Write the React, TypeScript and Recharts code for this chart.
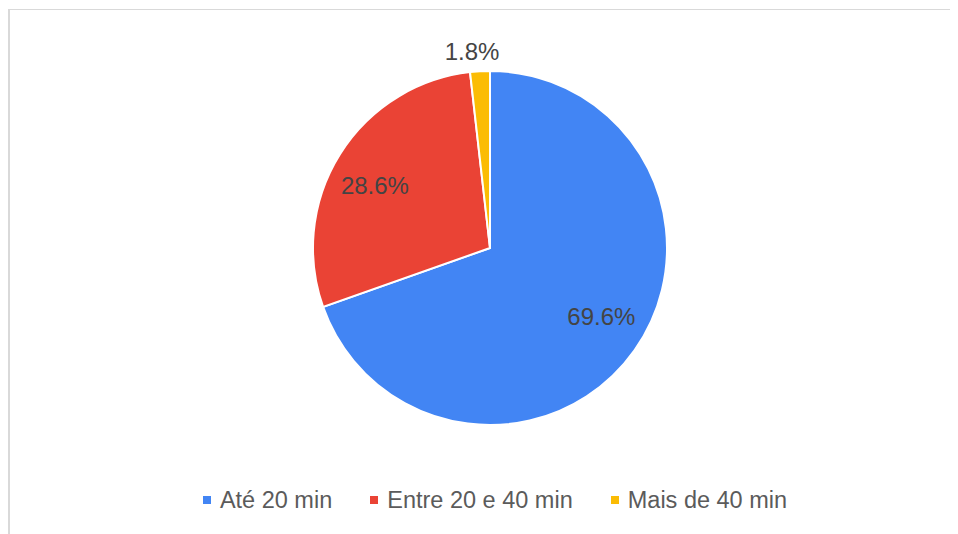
import { PieChart, Pie, Cell, Legend } from "recharts";

const categories = ["Até 20 min", "Entre 20 e 40 min", "Mais de 40 min"];
const values = [69.6, 28.6, 1.8];
const colors = ["#4285F4", "#EA4335", "#FBBC04"];

const data = categories.map((name, i) => ({ name, value: values[i] }));

const RAD = Math.PI / 180;
const FONT = "'Liberation Sans', Arial, sans-serif";

function renderLabel({ cx, cy, midAngle, outerRadius, percent }: any) {
  // small slices get their label outside the pie
  const outside = percent < 0.05;
  const r = outside ? outerRadius + 20 : outerRadius * 0.74;
  const a = midAngle + (outside ? 2 : 3.5);
  const x = cx + r * Math.cos(-a * RAD);
  const y = cy + r * Math.sin(-a * RAD);
  return (
    <text
      x={x}
      y={y}
      fill="#444444"
      fontSize={24}
      fontFamily={FONT}
      textAnchor="middle"
      dominantBaseline="central"
    >
      {(percent * 100).toFixed(1)}%
    </text>
  );
}

function LegendContent() {
  return (
    <div
      style={{
        display: "flex",
        justifyContent: "center",
        alignItems: "center",
        paddingLeft: 24,
        fontFamily: FONT,
        fontSize: 23.5,
        lineHeight: "28px",
        color: "#5b5b5b",
      }}
    >
      {categories.map((c, i) => (
        <div
          key={c}
          style={{
            display: "flex",
            alignItems: "center",
            marginRight: i < categories.length - 1 ? 38 : 0,
          }}
        >
          <span
            style={{
              width: 8,
              height: 8,
              background: colors[i],
              display: "inline-block",
              marginRight: 9,
            }}
          />
          <span>{c}</span>
        </div>
      ))}
    </div>
  );
}

export default function App() {
  return (
    <div style={{ position: "relative", width: 950, height: 526 }}>
      <div
        style={{
          position: "absolute",
          left: 0,
          top: 1,
          width: 948,
          height: 524,
          borderTop: "1px solid #d9d9d9",
          borderLeft: "2px solid #d9d9d9",
        }}
      />
      <PieChart width={950} height={526} style={{ position: "absolute", left: 0, top: 0 }}>
        <Pie
          data={data}
          dataKey="value"
          nameKey="name"
          cx={477}
          cy={235}
          outerRadius={177}
          startAngle={90}
          endAngle={-270}
          stroke="#ffffff"
          strokeWidth={2}
          label={renderLabel}
          labelLine={false}
          isAnimationActive={false}
        >
          {data.map((d, i) => (
            <Cell key={d.name} fill={colors[i]} />
          ))}
        </Pie>
        <Legend
          content={<LegendContent />}
          wrapperStyle={{ top: 478, left: 0, width: 950 }}
        />
      </PieChart>
    </div>
  );
}
